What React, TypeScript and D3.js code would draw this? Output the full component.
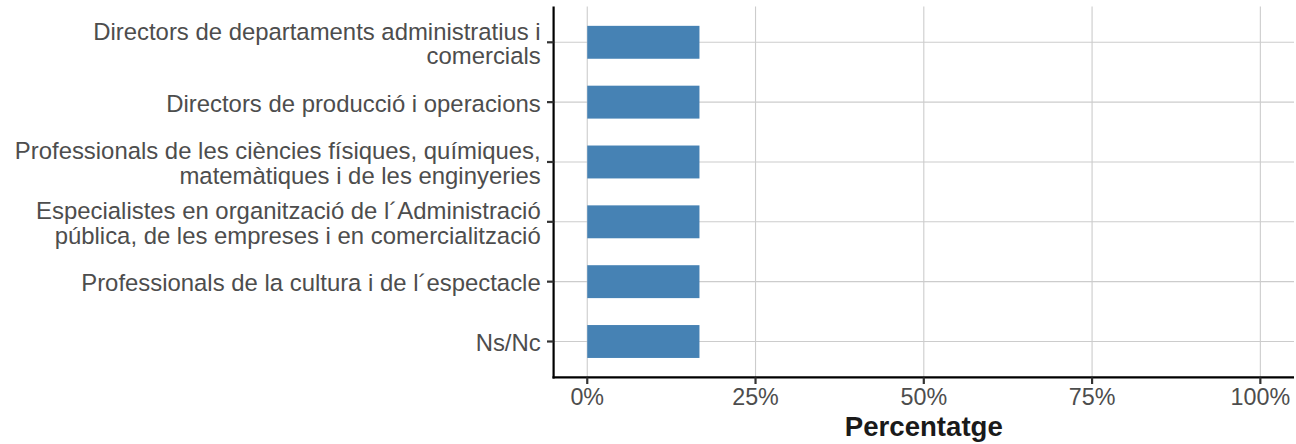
import * as d3 from "d3";

const categories = [
  "Directors de departaments administratius i\ncomercials",
  "Directors de producció i operacions",
  "Professionals de les ciències físiques, químiques,\nmatemàtiques i de les enginyeries",
  "Especialistes en organització de l´Administració\npública, de les empreses i en comercialització",
  "Professionals de la cultura i de l´espectacle",
  "Ns/Nc",
];
const values = [16.67, 16.67, 16.67, 16.67, 16.67, 16.67];
const xTicks = [0, 25, 50, 75, 100];
const xTitle = "Percentatge";

const W = 1296;
const H = 444;
const FONT = "'Liberation Sans', Arial, Helvetica, sans-serif";

export default function App() {
  const left = 553.6;
  const right = 1294;
  const top = 6.4;
  const bottom = 377.4;

  const x = d3.scaleLinear().domain([-5, 105]).range([left, right]);
  const step = (bottom - top) / (categories.length - 1 + 1.2);
  const y = d3
    .scalePoint<string>()
    .domain(categories)
    .range([top + 0.6 * step, bottom - 0.6 * step]);
  const barH = step * 0.55;

  const yLabelSize = 23.9;
  const xLabelSize = 23.3;
  const lineGap = 24.5;

  return (
    <svg
      width={W}
      height={H}
      style={{ position: "absolute", left: 0, top: 0, fontFamily: FONT }}
    >
      <rect width={W} height={H} fill="#ffffff" />

      {/* grid */}
      {xTicks.map((t) => (
        <line
          key={"gx" + t}
          x1={x(t)}
          x2={x(t)}
          y1={top}
          y2={bottom}
          stroke="#cccccc"
          strokeWidth={1.1}
        />
      ))}
      {categories.map((c) => (
        <line
          key={"gy" + c}
          x1={left}
          x2={right}
          y1={y(c)}
          y2={y(c)}
          stroke="#cccccc"
          strokeWidth={1.1}
        />
      ))}

      {/* bars */}
      {categories.map((c, i) => (
        <rect
          key={"b" + c}
          x={x(0)}
          y={(y(c) as number) - barH / 2}
          width={x(values[i]) - x(0)}
          height={barH}
          fill="#4682b4"
        />
      ))}

      {/* axis lines */}
      <line x1={left} x2={left} y1={top} y2={bottom + 1.1} stroke="#000" strokeWidth={2.2} />
      <line x1={left - 1.1} x2={right} y1={bottom} y2={bottom} stroke="#000" strokeWidth={2.2} />

      {/* y ticks and labels */}
      {categories.map((c) => {
        const lines = c.split("\n");
        const cy = y(c) as number;
        return (
          <g key={"yl" + c}>
            <line x1={left - 6.6} x2={left} y1={cy} y2={cy} stroke="#333333" strokeWidth={2.2} />
            <text textAnchor="end" fontSize={yLabelSize} fill="#4d4d4d">
              {lines.map((l, j) => (
                <tspan
                  key={j}
                  x={540.7}
                  y={cy + (j - (lines.length - 1) / 2) * lineGap + 9.6}
                >
                  {l}
                </tspan>
              ))}
            </text>
          </g>
        );
      })}

      {/* x ticks and labels */}
      {xTicks.map((t) => (
        <g key={"xl" + t}>
          <line x1={x(t)} x2={x(t)} y1={bottom} y2={bottom + 6.6} stroke="#333333" strokeWidth={2.2} />
          <text
            x={x(t)}
            y={405}
            textAnchor="middle"
            fontSize={xLabelSize}
            fill="#4d4d4d"
          >
            {t + "%"}
          </text>
        </g>
      ))}

      <text
        x={(left + right) / 2}
        y={435.5}
        textAnchor="middle"
        fontSize={27.6}
        fontWeight="bold"
        fill="#1a1a1a"
      >
        {xTitle}
      </text>
    </svg>
  );
}
